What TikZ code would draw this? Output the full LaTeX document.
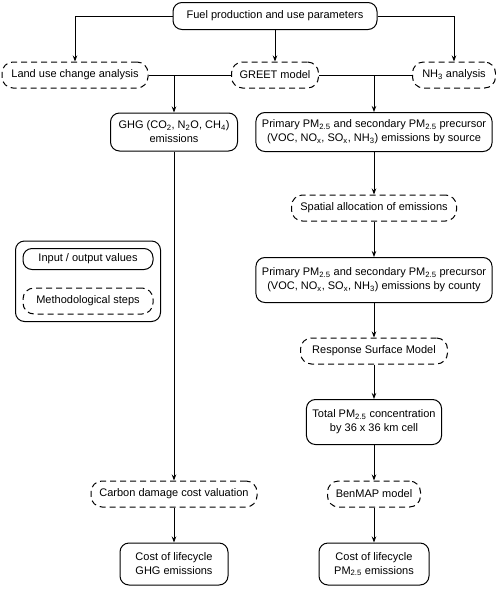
\documentclass[tikz,border=0pt]{standalone}
\usepackage{fontspec}
\setmainfont{Liberation Sans}
\usepackage{tikz}
\usetikzlibrary{arrows.meta,positioning,fit}
\newcommand{\subs}[1]{\textsubscript{#1}}

\begin{document}
\begin{tikzpicture}[x=1pt, y=-1pt,
        font=\fontsize{11}{14}\selectfont,
        value/.style={draw=black, line width=1pt, rounded corners=9pt, align=center, inner xsep=6pt, inner ysep=4pt},
        method/.style={draw=black, line width=1pt, dash pattern=on 6pt off 4pt, rounded corners=11pt, align=center, inner xsep=6pt, minimum height=26pt},
        link/.style={line width=1pt, -{Stealth[length=6pt, width=4.5pt]}}]
        \useasboundingbox (0,0) rectangle (496,590);

        % Top level
        \node[value, minimum width=204pt, minimum height=27pt] (fuel) at (275,16) {Fuel production and use parameters};
        \node[method, minimum width=146pt] (land) at (75,75) {Land use change analysis};
        \node[method, minimum width=87pt] (greet) at (275,75) {GREET model};
        \node[method, minimum width=83pt] (nh3) at (454,75) {NH\subs{3} analysis};

        % GHG branch
        \node[value, minimum width=127pt, minimum height=38pt] (ghg) at (174,132) {GHG (CO\subs{2}, N\subs{2}O, CH\subs{4})\\emissions};
        \node[method, minimum width=166pt] (carbon) at (174,494) {Carbon damage cost valuation};
        \node[value, minimum width=108pt, minimum height=42pt] (costghg) at (174,564) {Cost of lifecycle\\GHG emissions};

        % PM2.5 branch
        \node[value, minimum width=235pt, minimum height=39pt] (src) at (374,132) {Primary PM\subs{2.5} and secondary PM\subs{2.5} precursor\\(VOC, NO\subs{x}, SO\subs{x}, NH\subs{3}) emissions by source};
        \node[method, minimum width=165pt] (spatial) at (374,208) {Spatial allocation of emissions};
        \node[value, minimum width=235pt, minimum height=45pt] (county) at (374,280) {Primary PM\subs{2.5} and secondary PM\subs{2.5} precursor\\(VOC, NO\subs{x}, SO\subs{x}, NH\subs{3}) emissions by county};
        \node[method, minimum width=147pt] (rsm) at (374,351) {Response Surface Model};
        \node[value, minimum width=134pt, minimum height=45pt] (total) at (374,422) {Total PM\subs{2.5} concentration\\by 36 x 36 km cell};
        \node[method, minimum width=93pt] (benmap) at (374,494) {BenMAP model};
        \node[value, minimum width=110pt, minimum height=42pt] (costpm) at (374,564) {Cost of lifecycle\\PM\subs{2.5} emissions};

        % Legend
        \node[value, minimum width=130pt, minimum height=21pt] (io) at (88,259) {Input / output values};
        \node[method, minimum width=130pt] (meth) at (88,301) {Methodological steps};
        \node[draw=black, line width=1pt, rounded corners=9pt, fit=(io)(meth), inner sep=7pt] (legend) {};

        % Connections
        \draw[link] (fuel.west) -| (land.north);
        \draw[link] (fuel.east) -| (nh3.north);
        \draw[link] (fuel) -- (greet);
        \draw[line width=1pt] (land) -- (greet) -- (nh3);
        \draw[link] (ghg.north |- land.east) -- (ghg);
        \draw[link] (src.north |- greet.east) -- (src);
        \foreach \a/\b in {ghg/carbon, carbon/costghg, src/spatial, spatial/county, county/rsm, rsm/total, total/benmap, benmap/costpm}
            \draw[link] (\a) -- (\b);
    \end{tikzpicture}
\end{document}
